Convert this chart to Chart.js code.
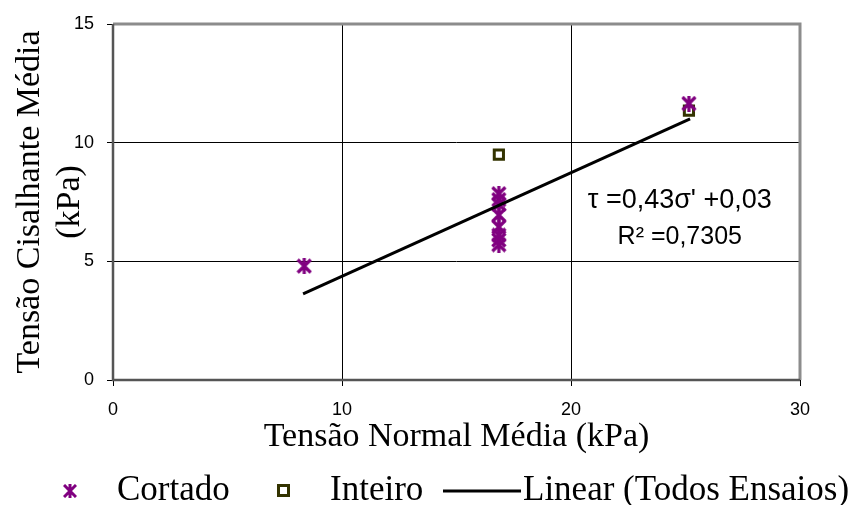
<!DOCTYPE html>
<html>
<head>
<meta charset="utf-8">
<script src="https://cdn.jsdelivr.net/npm/chart.js@4"></script>
<style>
  body { margin: 0; background: #fff; }
  #wrap { position: relative; width: 854px; height: 505px; }
  #legend { position: absolute; left: 0; top: 470px; width: 854px; height: 35px;
            font-family: "Liberation Serif", "Times New Roman", serif; font-size: 35px; color: #000; }
  #legend span, #legend svg { position: absolute; }
</style>
</head>
<body>
<div id="wrap">
  <canvas id="shearChart" width="854" height="505"></canvas>
  <div id="legend">
    <svg style="left:63px;top:14px" width="14" height="14">
      <path d="M7 0 V14 M1 1 L13 13 M13 1 L1 13" stroke="#800080" stroke-width="3"/>
    </svg>
    <span style="left:117px;top:-1px">Cortado</span>
    <svg style="left:277px;top:14px" width="13" height="13">
      <rect x="1.5" y="1.5" width="10" height="10" fill="#fff" stroke="#333300" stroke-width="3"/>
    </svg>
    <span style="left:330px;top:-1px">Inteiro</span>
    <svg style="left:443px;top:19px" width="78" height="4">
      <line x1="0" y1="2" x2="78" y2="2" stroke="#000" stroke-width="3"/>
    </svg>
    <span style="left:523px;top:-1px">Linear (Todos Ensaios)</span>
  </div>
</div>
<script>
// values (kPa)
const cortadoX = [8.35, 16.85, 16.85, 16.85, 16.85, 16.85, 16.85, 16.85, 16.85, 25.15];
const cortadoY = [4.8, 7.85, 7.6, 7.4, 6.95, 6.45, 6.1, 5.9, 5.7, 11.65];
const inteiroX = [16.85, 25.15];
const inteiroY = [9.5, 11.35];
// ends of the trend line as drawn
const linearX = [8.3, 25.2];
const linearY = [3.63, 11.0];

const xTicks = [0, 10, 20, 30];
const yTicks = [0, 5, 10, 15];

function toPoints(xs, ys) {
  return xs.map((x, i) => ({ x: x, y: ys[i] }));
}

// asterisk marker like the spreadsheet one
function starMarker() {
  const c = document.createElement('canvas');
  c.width = 16; c.height = 16;
  const g = c.getContext('2d');
  g.strokeStyle = '#800080';
  g.lineWidth = 3.2;
  g.beginPath();
  g.moveTo(8, 0); g.lineTo(8, 16);
  g.moveTo(1.5, 1.5); g.lineTo(14.5, 14.5);
  g.moveTo(14.5, 1.5); g.lineTo(1.5, 14.5);
  g.stroke();
  return c;
}

const plotFrame = {
  id: 'plotFrame',
  beforeDatasetsDraw(chart) {
    const { ctx, chartArea: a } = chart;
    ctx.save();
    ctx.strokeStyle = '#8c8c8c';
    ctx.lineWidth = 3;
    ctx.beginPath();
    ctx.moveTo(a.left, a.top); ctx.lineTo(a.right, a.top); ctx.lineTo(a.right, a.bottom);
    ctx.stroke();
    ctx.strokeStyle = '#555';
    ctx.lineWidth = 2.5;
    ctx.beginPath();
    ctx.moveTo(a.left, a.top); ctx.lineTo(a.left, a.bottom); ctx.lineTo(a.right, a.bottom);
    ctx.stroke();
    ctx.restore();
  }
};

const innerGrid = (ctx, ticks) => {
  const v = ctx.tick ? ctx.tick.value : null;
  return (v === ticks[0] || v === ticks[ticks.length - 1]) ? 'rgba(0,0,0,0)' : '#000';
};

const serif = '"Liberation Serif", "Times New Roman", serif';
const sans = '"Liberation Sans", Arial, sans-serif';

new Chart(document.getElementById('shearChart').getContext('2d'), {
  type: 'scatter',
  data: {
    datasets: [
      {
        label: 'Cortado',
        data: toPoints(cortadoX, cortadoY),
        pointStyle: starMarker(),
        pointRadius: 8,
        order: 2
      },
      {
        label: 'Inteiro',
        data: toPoints(inteiroX, inteiroY),
        pointStyle: 'rect',
        pointRadius: 6.5,
        borderColor: '#333300',
        backgroundColor: '#fff',
        borderWidth: 3,
        order: 3
      },
      {
        label: 'Linear (Todos Ensaios)',
        type: 'line',
        data: toPoints(linearX, linearY),
        borderColor: '#000',
        borderWidth: 3,
        pointRadius: 0,
        fill: false,
        order: 1
      }
    ]
  },
  options: {
    responsive: false,
    animation: false,
    layout: { padding: { top: 24, right: 54, bottom: 45, left: 0 } },
    plugins: {
      legend: { display: false },
      tooltip: { enabled: false }
    },
    scales: {
      x: {
        type: 'linear',
        min: 0, max: 30,
        afterBuildTicks: s => { s.ticks = xTicks.map(v => ({ value: v })); },
        afterFit: s => { s.height = 80; },
        grid: { color: c => innerGrid(c, xTicks), tickColor: '#000', tickLength: 6, lineWidth: 1 },
        border: { display: false },
        ticks: { color: '#000', padding: 13, font: { family: sans, size: 18 } },
        title: {
          display: true,
          text: 'Tensão Normal Média (kPa)',
          color: '#000',
          font: { family: serif, size: 34, lineHeight: 1.18 },
          padding: { top: 0, bottom: 3 }
        }
      },
      y: {
        type: 'linear',
        min: 0, max: 15,
        afterBuildTicks: s => { s.ticks = yTicks.map(v => ({ value: v })); },
        afterFit: s => { s.width = 113; },
        grid: { color: c => innerGrid(c, yTicks), tickColor: '#000', tickLength: 6, lineWidth: 1 },
        border: { display: false },
        ticks: { color: '#000', padding: 13, font: { family: sans, size: 18 } },
        title: {
          display: true,
          text: ['Tensão Cisalhante Média', '(kPa)'],
          color: '#000',
          font: { family: serif, size: 34, lineHeight: 1.18 },
          padding: { top: 10, bottom: 0 }
        }
      }
    }
  },
  plugins: [plotFrame, {
    id: 'equation',
    afterDatasetsDraw(chart) {
      const { ctx } = chart;
      const x = chart.scales.x, y = chart.scales.y;
      ctx.save();
      ctx.fillStyle = '#000';
      ctx.textAlign = 'center';
      ctx.textBaseline = 'middle';
      ctx.font = '27px ' + sans;
      ctx.fillText('τ =0,43σ\' +0,03', x.getPixelForValue(24.75), y.getPixelForValue(7.55));
      ctx.font = '25px ' + sans;
      ctx.fillText('R² =0,7305', x.getPixelForValue(24.75), y.getPixelForValue(6.0));
      ctx.restore();
    }
  }]
});
</script>
</body>
</html>
